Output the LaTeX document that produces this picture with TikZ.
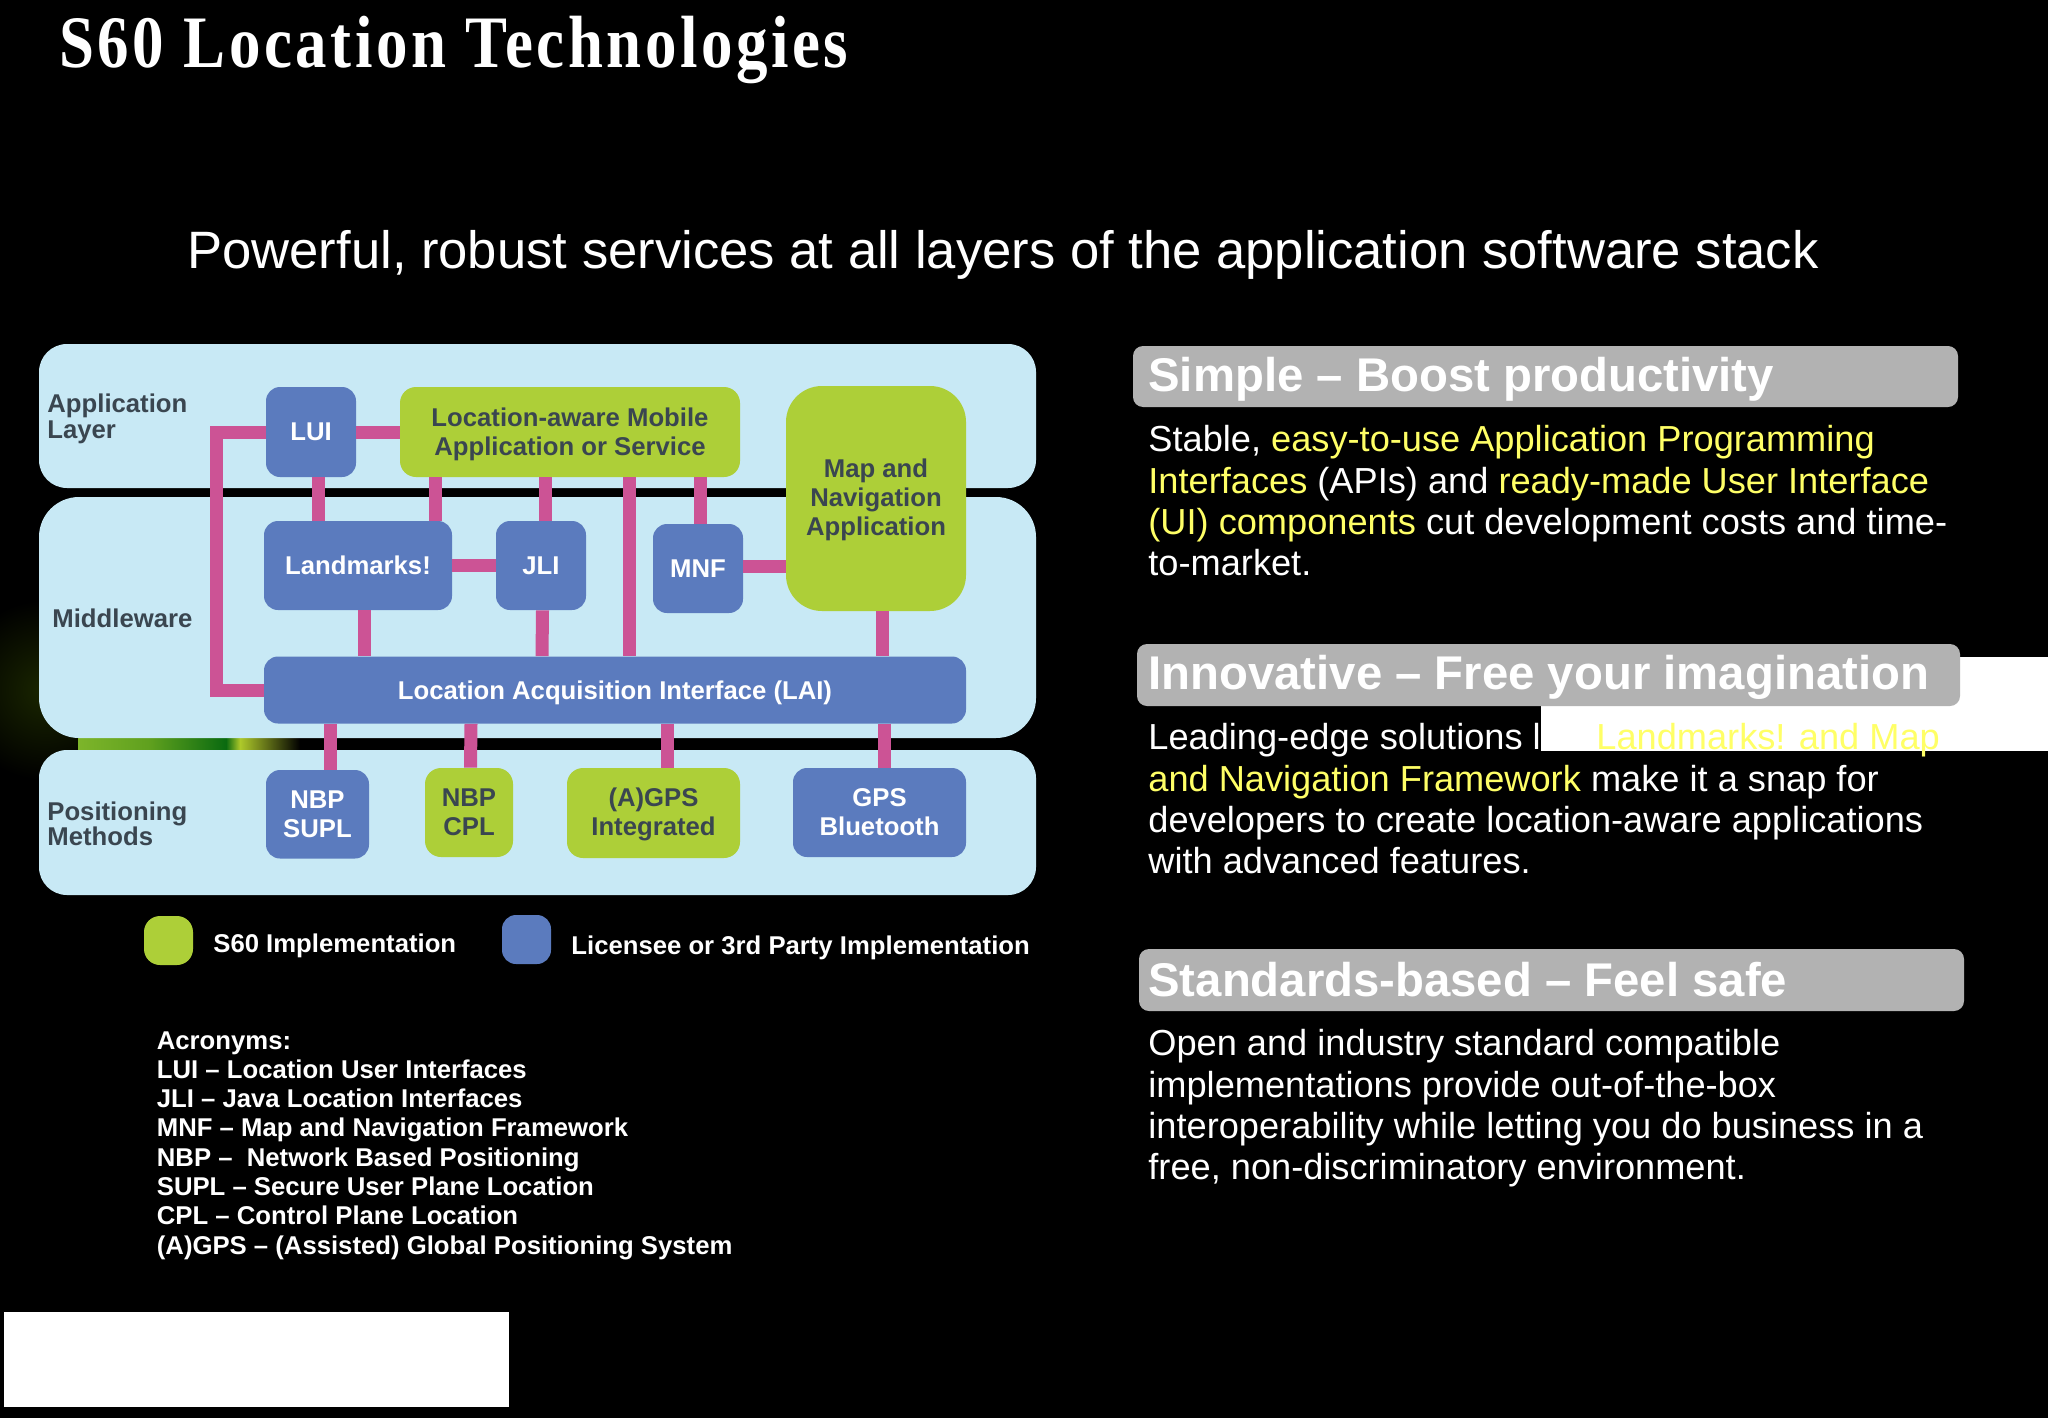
\documentclass[tikz,border=0pt]{standalone}
\usepackage{fontspec}
\setmainfont{Liberation Sans}
\newfontfamily\titlefont[FakeStretch=0.85,LetterSpace=4.8]{Liberation Serif}
\usetikzlibrary{calc}
\definecolor{panelc}{HTML}{C8E9F5}
\definecolor{bluec}{HTML}{5B7BBE}
\definecolor{greenc}{HTML}{ADCF38}
\definecolor{pinkc}{HTML}{CC5395}
\definecolor{darkt}{HTML}{3A4650}
\definecolor{grayc}{HTML}{B2B2B2}
\definecolor{yel}{HTML}{FFFF66}
\definecolor{glowc}{HTML}{1A2600}
\definecolor{stripa}{HTML}{7DB52A}
\definecolor{stripm}{HTML}{5FA01E}
\definecolor{stripb}{HTML}{0A6A10}
\definecolor{stripc}{HTML}{AEC92A}
\newcommand\fs[2]{\fontsize{#1}{#2}\selectfont}
\tikzset{
  x=0.5pt,y=-0.5pt,
  panel/.style={fill=panelc,draw=none,inner sep=0pt},
  blueb/.style={fill=bluec,draw=none,inner sep=0pt,rounded corners=7pt,text=white,font=\bfseries\fs{12.85pt}{14.5pt},align=center},
  greenb/.style={fill=greenc,draw=none,inner sep=0pt,rounded corners=8pt,text=darkt,font=\bfseries\fs{12.85pt}{14.5pt},align=center},
  pipe/.style={draw=pinkc,line width=6.5pt},
  lab/.style={anchor=base west,inner sep=0pt,text=darkt,font=\bfseries\fs{12.85pt}{14.5pt}},
  leg/.style={anchor=base west,inner sep=0pt,text=white,font=\bfseries\fs{12.85pt}{14.5pt}},
  acr/.style={anchor=base west,inner sep=0pt,text=white,font=\bfseries\fs{12.85pt}{14.5pt}},
  head/.style={fill=grayc,draw=none,inner sep=0pt,rounded corners=5pt},
  headt/.style={anchor=base west,inner sep=0pt,text=white,font=\bfseries\fs{23.65pt}{26pt}},
  body/.style={anchor=base west,inner sep=0pt,text=white,font=\fs{18.1pt}{20pt}},
}
\newcommand\myblock[7]{%
  \pgfmathsetmacro\cw{(#5-#3)*0.5}%
  \pgfmathsetmacro\ch{(#6-#4)*0.5}%
  \node[#2,minimum width=\cw pt,minimum height=\ch pt] (#1) at ({(#3+#5)/2},{(#4+#6)/2}) {#7};}
\newcommand\link[4]{\draw[pipe] ([xshift=#2*0.5pt]#1.south) -- ([xshift=#4*0.5pt]#3.north);}
\newcommand\lift[1]{\rule{0pt}{#1}}
\begin{document}
\begin{tikzpicture}
\useasboundingbox (0,0) rectangle (2048,1418);
\fill[black] (0,0) rectangle (2048,1418);
% background glimpses
\shade[inner color=glowc,outer color=black] (45,690) circle[radius=45pt];
\shade[left color=stripa,right color=stripm] (78,736) rectangle (150,752);
\shade[left color=stripm,right color=stripb] (150,736) rectangle (226,752);
\shade[left color=stripb,right color=stripc] (226,736) rectangle (240,752);
\shade[left color=stripc,right color=black] (240,736) rectangle (300,752);
% masks
\fill[white] (1541,657) rectangle (2048,751);
\fill[white] (4,1312) rectangle (509,1407);
% layers
\myblock{appl}{panel,rounded corners=14pt}{39}{344}{1036}{488}{}
\myblock{midl}{panel,rounded corners=20pt}{39}{497}{1036}{738}{}
\myblock{posl}{panel,rounded corners=14pt}{39}{750}{1036}{895}{}
% blocks
\myblock{lui}{blueb}{266}{387}{356}{477}{LUI}
\myblock{loc}{greenb}{400}{387}{740}{477}{\lift{12pt}Location-aware Mobile\\Application or Service}
\myblock{map}{greenb,rounded corners=18pt}{786}{386}{966}{611}{\lift{10.7pt}Map and\\Navigation\\Application}
\myblock{lm}{blueb}{264}{521}{452}{610}{Landmarks!}
\myblock{jli}{blueb}{496}{521}{586}{610}{JLI}
\myblock{mnf}{blueb}{653}{524}{743}{613}{MNF}
\myblock{lai}{blueb}{264}{656.5}{966}{723.5}{\lift{12.3pt}Location Acquisition Interface (LAI)}
\myblock{sup}{blueb}{266}{770}{369}{858.5}{\lift{9pt}NBP\\SUPL}
\myblock{cpl}{greenb}{425}{768}{513}{857}{\lift{9pt}NBP\\CPL}
\myblock{agps}{greenb}{567}{768}{740}{858}{\lift{10.5pt}(A)GPS\\Integrated}
\myblock{gpsb}{blueb}{793}{768}{966}{857}{\lift{9pt}GPS\\Bluetooth}
\myblock{legg}{greenb}{144}{916}{193}{965}{}
\myblock{legb}{blueb}{502}{915}{551}{964}{}
% connectors
\coordinate (rail) at (216.5,560);
\draw[pipe] (lui.east) -- (loc.west);
\draw[pipe] (lui.west) -- (lui.west -| rail) -- (lai.west -| rail) -- (lai.west);
\link{lui}{7}{lm}{-40}
\link{loc}{-135}{lm}{77}
\link{loc}{-24.5}{jli}{4.5}
\link{loc}{59.5}{lai}{14.5}
\link{loc}{130}{mnf}{2}
\link{lm}{6}{lai}{-251}
\link{jli}{1.5}{lai}{-73}
\link{map}{6}{lai}{267}
\link{lai}{-284.5}{sup}{13}
\link{lai}{-144}{cpl}{1.5}
\link{lai}{52}{agps}{13.5}
\link{lai}{269.5}{gpsb}{5}
\draw[pipe] (lm.east) -- (jli.west);
\draw[pipe] ([yshift=1.25pt]mnf.east) -- ([yshift=-33.75pt]map.west);
% layer labels
\node[lab] (l1) at (47,412) {Application};
\node[lab] (l2) at (47,438) {Layer};
\node[lab] (l3) at (52,627) {Middleware};
\node[lab] (l4) at (47,820) {Positioning};
\node[lab] (l5) at (47,845) {Methods};
% legend
\node[leg] (t1) at (213,952.5) {S60 Implementation};
\node[leg] (t2) at (571,954.5) {Licensee or 3rd Party Implementation};
% title
\node[anchor=base west,inner sep=0pt,text=white,font=\titlefont\bfseries\fs{37pt}{40pt}] (title) at (59,68) {S60 Location Technologies};
\node[anchor=base west,inner sep=0pt,text=white,font=\fs{26.3pt}{29pt}] (sub) at (187,268) {Powerful, robust services at all layers of the application software stack};
% headings
\myblock{h1}{head}{1133}{346}{1958}{407}{}
\myblock{h2}{head}{1137}{644}{1960}{706}{}
\myblock{h3}{head}{1139}{949}{1964}{1011}{}
\node[headt] (h1t) at (1148,391.5) {Simple -- Boost productivity};
\node[headt] (h2t) at (1148,689.5) {Innovative -- Free your imagination};
\node[headt] (h3t) at (1148,996) {Standards-based -- Feel safe};
% body text
\node[body] (a1) at (1148,451) {Stable, \textcolor{yel}{easy-to-use Application Programming}};
\node[body] (a2) at (1148,493) {\textcolor{yel}{Interfaces} (APIs) and \textcolor{yel}{ready-made User Interface}};
\node[body] (a3) at (1148,534) {\textcolor{yel}{(UI) components} cut development costs and time-};
\node[body] (a4) at (1148,575) {to-market.};
\node[body] (b1) at (1148,749) {Leading-edge solutions l};
\node[body,text=yel] (b1b) at (1596,749) {Landmarks! and Map};
\node[body] (b2) at (1148,791) {\textcolor{yel}{and Navigation Framework} make it a snap for};
\node[body] (b3) at (1148,832) {developers to create location-aware applications};
\node[body] (b4) at (1148,873) {with advanced features.};
\node[body] (c1) at (1148,1055) {Open and industry standard compatible};
\node[body] (c2) at (1148,1097) {implementations provide out-of-the-box};
\node[body] (c3) at (1148,1138) {interoperability while letting you do business in a};
\node[body] (c4) at (1148,1179) {free, non-discriminatory environment.};
% acronyms
\node[acr] (r0) at (156.5,1049) {Acronyms:};
\node[acr] (r1) at (156.5,1078.3) {LUI -- Location User Interfaces};
\node[acr] (r2) at (156.5,1107.6) {JLI -- Java Location Interfaces};
\node[acr] (r3) at (156.5,1136.9) {MNF -- Map and Navigation Framework};
\node[acr] (r4) at (156.5,1166.2) {NBP --\ \ Network Based Positioning};
\node[acr] (r5) at (156.5,1195.5) {SUPL -- Secure User Plane Location};
\node[acr] (r6) at (156.5,1224.8) {CPL -- Control Plane Location};
\node[acr] (r7) at (156.5,1254.1) {(A)GPS -- (Assisted) Global Positioning System};
\end{tikzpicture}
\end{document}
